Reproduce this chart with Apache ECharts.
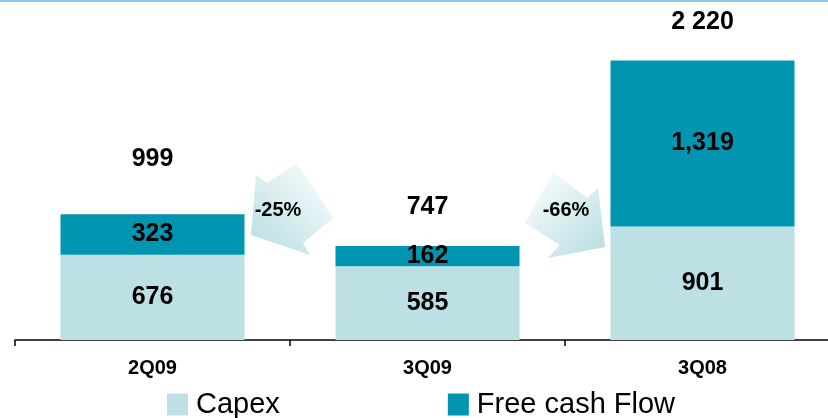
<!DOCTYPE html>
<html>
<head>
<meta charset="utf-8">
<script src="https://cdn.jsdelivr.net/npm/echarts@6/dist/echarts.min.js"></script>
<style>
  html, body { margin: 0; padding: 0; background: #fff; }
  #chart { width: 828px; height: 418px; }
</style>
</head>
<body>
<div id="chart"></div>
<script>
// values
var quarters = ['2Q09', '3Q09', '3Q08'];
var capex = [676, 585, 901];
var freeCashFlow = [323, 162, 1319];
var totals = [999, 747, 2220];
var changes = ['-25%', '-66%'];

var capexColor = '#bce0e3';
var fcfColor = '#0095b0';
var font = 'Liberation Sans, Arial, sans-serif';

// gap between bar top and total label
var totalGap = [42, 26, 25];

function spaced(n) {
    return String(n).replace(/\B(?=(\d{3})+(?!\d))/g, ' ');
}
function commas(n) {
    return String(n).replace(/\B(?=(\d{3})+(?!\d))/g, ',');
}

var valueLabel = {
    show: true,
    position: 'inside',
    color: '#000',
    fontFamily: font,
    fontWeight: 'bold',
    fontSize: 25,
    formatter: function (p) { return commas(p.value); }
};

var chart = echarts.init(document.getElementById('chart'));

chart.setOption({
    animation: false,
    grid: { left: 15, width: 825, top: 0, bottom: 78, outerBoundsMode: 'none', containLabel: false },
    legend: {
        data: ['Capex', 'Free cash Flow'],
        left: 167,
        top: 390,
        padding: 0,
        icon: 'rect',
        itemWidth: 21,
        itemHeight: 22,
        itemGap: 168,
        textStyle: { fontFamily: font, fontSize: 29, color: '#000', padding: [0, 0, 0, 3] }
    },
    xAxis: {
        type: 'category',
        data: quarters,
        axisLine: { lineStyle: { color: '#000', width: 1.5 } },
        axisTick: { show: true, length: 6, lineStyle: { color: '#000', width: 1.5 } },
        axisLabel: {
            color: '#000',
            fontFamily: font,
            fontWeight: 'bold',
            fontSize: 20,
            margin: 18
        }
    },
    yAxis: {
        type: 'value',
        min: 0,
        max: 2700,
        show: false,
        splitLine: { show: false }
    },
    series: [
        {
            name: 'Capex',
            type: 'bar',
            stack: 'total',
            barWidth: 184,
            itemStyle: { color: capexColor },
            label: valueLabel,
            data: capex
        },
        {
            name: 'Free cash Flow',
            type: 'bar',
            stack: 'total',
            barWidth: 184,
            itemStyle: { color: fcfColor },
            label: valueLabel,
            data: freeCashFlow
        },
        {
            name: 'Total',
            type: 'line',
            symbol: 'circle',
            symbolSize: 1,
            itemStyle: { color: 'rgba(0,0,0,0)' },
            lineStyle: { width: 0, color: 'rgba(0,0,0,0)' },
            silent: true,
            data: totals.map(function (v, i) {
                return {
                    value: v,
                    label: {
                        show: true,
                        position: 'top',
                        distance: totalGap[i],
                        color: '#000',
                        fontFamily: font,
                        fontWeight: 'bold',
                        fontSize: 25,
                        formatter: function () { return spaced(v); }
                    }
                };
            })
        }
    ],
    graphic: [
        {
            type: 'rect',
            shape: { x: 0, y: 0, width: 828, height: 2 },
            style: { fill: '#8fcbe8' }
        },
        {
            type: 'polygon',
            shape: { points: [[256, 175], [251, 235], [310, 255], [303, 243], [333, 218], [297, 163], [267, 183]] },
            style: {
                fill: new echarts.graphic.LinearGradient(1, 0, 0, 1, [
                    { offset: 0, color: '#ffffff' },
                    { offset: 1, color: '#b5dde2' }
                ])
            }
        },
        {
            type: 'polygon',
            shape: { points: [[525, 223], [553, 172], [587, 198], [598, 188], [605, 247], [548, 258], [560, 245]] },
            style: {
                fill: new echarts.graphic.LinearGradient(0, 0, 1, 1, [
                    { offset: 0, color: '#ffffff' },
                    { offset: 1, color: '#b5dde2' }
                ])
            }
        },
        {
            type: 'text',
            x: 278, y: 210,
            style: {
                text: changes[0], fill: '#000', font: 'bold 20px ' + font,
                align: 'center', verticalAlign: 'middle'
            }
        },
        {
            type: 'text',
            x: 566, y: 210,
            style: {
                text: changes[1], fill: '#000', font: 'bold 20px ' + font,
                align: 'center', verticalAlign: 'middle'
            }
        }
    ]
});
</script>
</body>
</html>
